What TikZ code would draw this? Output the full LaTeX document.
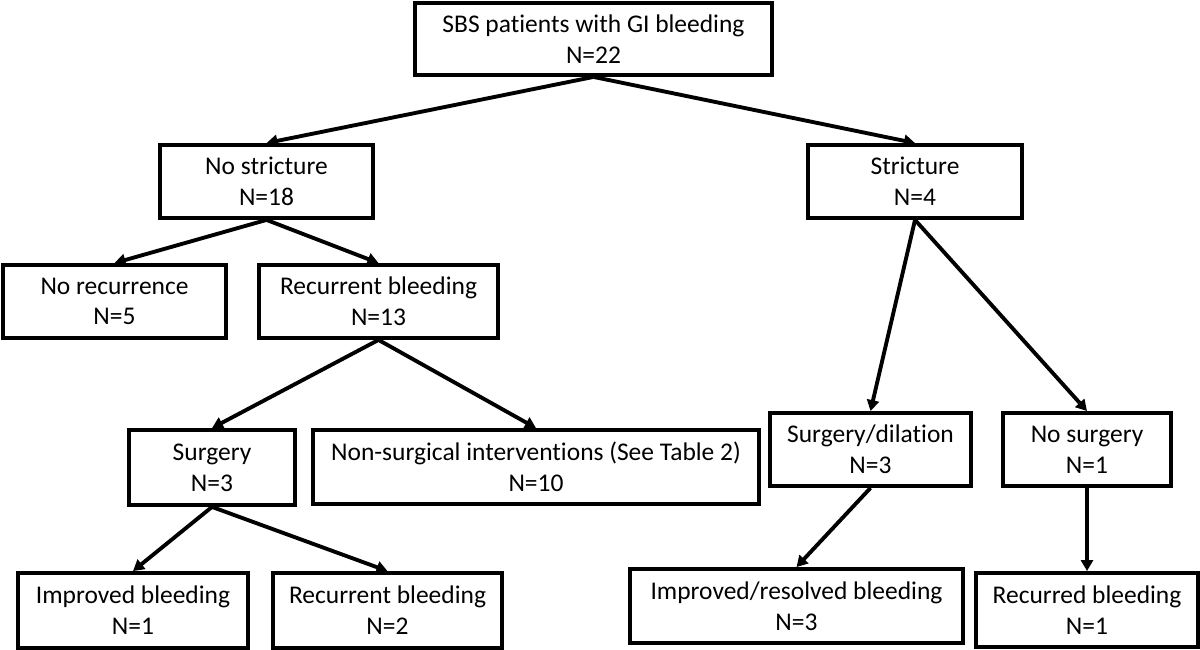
\documentclass[tikz,border=0pt]{standalone}
\usepackage{fontspec}
\setmainfont{Carlito}[Ligatures=CommonOff]
\usetikzlibrary{arrows.meta}

\begin{document}
\begin{tikzpicture}[box/.style={draw, line width=2.2pt, align=center, inner sep=0pt, minimum height=1.46cm, font=\fontsize{14.5}{17.5}\selectfont},
  pil/.style={line width=2.2pt, -{Triangle[length=2.2mm,width=2.4mm]}}]
\useasboundingbox (0,0) rectangle (24,13);
\node[box, minimum width=7.14cm, minimum height=1.44cm] (top) at (11.87,12.22) {SBS patients with GI bleeding\\N=22};
\node[box, minimum width=4.26cm] (nostr) at (5.33,9.37) {No stricture\\N=18};
\node[box, minimum width=4.28cm] (str) at (18.30,9.37) {Stricture\\N=4};
\node[box, minimum width=4.46cm] (norec) at (2.29,6.97) {No recurrence\\N=5};
\node[box, minimum width=4.78cm] (recbl) at (7.57,6.97) {Recurrent bleeding\\N=13};
\node[box, minimum width=3.32cm, minimum height=1.5cm] (surg) at (4.24,3.65) {Surgery\\N=3};
\node[box, minimum width=8.92cm, minimum height=1.48cm] (nonsurg) at (10.72,3.66) {Non-surgical interventions (See Table 2)\\N=10};
\node[box, minimum width=4.02cm] (surgdil) at (17.41,4.01) {Surgery/dilation\\N=3};
\node[box, minimum width=3.36cm] (nosurg) at (21.74,4.01) {No surgery\\N=1};
\node[box, minimum width=4.60cm, minimum height=1.5cm] (impr) at (2.66,0.79) {Improved bleeding\\N=1};
\node[box, minimum width=4.58cm, minimum height=1.5cm] (recbl2) at (7.75,0.79) {Recurrent bleeding\\N=2};
\node[box, minimum width=6.66cm, minimum height=1.48cm] (imprres) at (15.93,0.88) {Improved/resolved bleeding\\N=3};
\node[box, minimum width=4.44cm, minimum height=1.48cm] (recur) at (21.74,0.80) {Recurred bleeding\\N=1};
\draw[pil] (top.south) -- (nostr.north);
\draw[pil] (top.south) -- (str.north);
\draw[pil] (nostr.south) -- (norec.north);
\draw[pil] (nostr.south) -- (recbl.north);
\draw[pil] (recbl.south) -- (surg.north);
\draw[pil] (recbl.south) -- (nonsurg.north);
\draw[pil] (surg.south) -- (impr.north);
\draw[pil] (surg.south) -- (recbl2.north);
\draw[pil] (str.south) -- (surgdil.north);
\draw[pil] (str.south) -- (nosurg.north);
\draw[pil] (surgdil.south) -- (imprres.north);
\draw[pil] (nosurg.south) -- (recur.north);
\end{tikzpicture}
\end{document}
